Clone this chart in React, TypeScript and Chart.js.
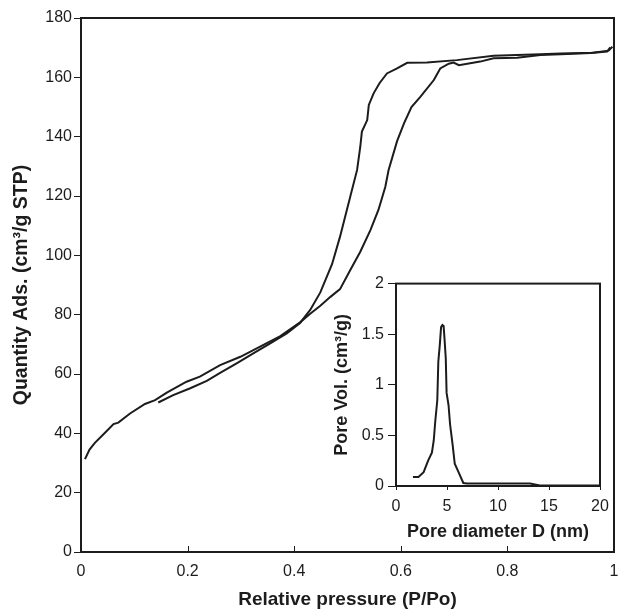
import React, { useEffect, useRef } from 'react';
import { Chart, registerables } from 'chart.js';

Chart.register(...registerables);

const FONT = '"Liberation Sans", Arial, Helvetica, sans-serif';
const INK = '#1c1c1c';

// Main isotherm: adsorption branch
const adsP = [0.0075, 0.016, 0.026, 0.045, 0.061, 0.07, 0.092, 0.12, 0.139, 0.161, 0.198, 0.223, 0.261, 0.299, 0.336, 0.374, 0.411, 0.43, 0.449, 0.468, 0.486, 0.505, 0.524, 0.543, 0.558, 0.571, 0.577, 0.593, 0.606, 0.62, 0.637, 0.662, 0.674, 0.69, 0.699, 0.709, 0.749, 0.774, 0.818, 0.862, 0.9, 0.956, 0.99, 0.997];
const adsQ = [31.3, 34.5, 36.8, 40.2, 43.1, 43.6, 46.7, 49.9, 51.2, 53.7, 57.4, 59.1, 63.0, 65.8, 69.2, 72.8, 77.4, 80.3, 83.0, 86.0, 88.6, 95.0, 101.2, 108.5, 115.3, 123.1, 128.7, 138.5, 144.5, 150.0, 153.5, 159.1, 163.0, 164.6, 165.0, 164.1, 165.3, 166.4, 166.6, 167.5, 167.8, 168.2, 169.0, 170.3];

// Main isotherm: desorption branch
const desP = [0.993, 0.987, 0.962, 0.9, 0.862, 0.774, 0.705, 0.649, 0.612, 0.593, 0.574, 0.56, 0.549, 0.54, 0.537, 0.527, 0.524, 0.518, 0.505, 0.486, 0.471, 0.449, 0.43, 0.411, 0.386, 0.355, 0.324, 0.292, 0.261, 0.236, 0.205, 0.173, 0.145];
const desQ = [170.1, 168.7, 168.3, 168.0, 167.8, 167.3, 165.8, 165.0, 164.9, 163.0, 161.3, 158.0, 154.6, 150.7, 145.6, 141.7, 136.6, 128.8, 119.7, 106.3, 97.0, 87.5, 81.6, 77.2, 73.7, 70.3, 67.0, 63.6, 60.4, 57.7, 55.2, 52.9, 50.4];

const mainXTicks = [0, 0.2, 0.4, 0.6, 0.8, 1];
const mainYTicks = [0, 20, 40, 60, 80, 100, 120, 140, 160, 180];

// Inset: pore size distribution
const poreD = [1.66, 2.2, 2.71, 3.15, 3.52, 3.7, 3.85, 4.05, 4.15, 4.29, 4.42, 4.55, 4.67, 4.76, 4.88, 4.96, 5.15, 5.3, 5.55, 5.76, 6.13, 6.6, 6.95, 13.15, 14.1, 20];
const poreV = [0.09, 0.09, 0.137, 0.25, 0.33, 0.45, 0.64, 0.85, 1.23, 1.39, 1.57, 1.59, 1.58, 1.45, 1.26, 0.92, 0.8, 0.61, 0.41, 0.22, 0.137, 0.03, 0.025, 0.025, 0.005, 0.005];

const insetXTicks = [0, 5, 10, 15, 20];
const insetYTicks = [0, 0.5, 1, 1.5, 2];

const framePlugin = {
  id: 'frame',
  afterDraw(chart: any, _args: any, opts: any) {
    const { ctx, chartArea } = chart;
    const { left, top, right, bottom } = chartArea;
    ctx.save();
    ctx.strokeStyle = INK;
    ctx.lineWidth = 2;
    ctx.strokeRect(left, top, right - left, bottom - top);
    if (opts && opts.innerTicks) {
      const xs = chart.scales.x;
      ctx.lineWidth = 1;
      opts.innerTicks.forEach((v: number) => {
        const px = Math.round(xs.getPixelForValue(v)) + 0.5;
        ctx.beginPath();
        ctx.moveTo(px, bottom);
        ctx.lineTo(px, bottom - opts.innerTickLen);
        ctx.stroke();
      });
    }
    ctx.restore();
  },
};

function pts(xs: number[], ys: number[]) {
  return xs.map((x, i) => ({ x, y: ys[i] }));
}

export default function App() {
  const mainRef = useRef<HTMLCanvasElement>(null);
  const insetRef = useRef<HTMLCanvasElement>(null);

  useEffect(() => {
    const tickFont = { family: FONT, size: 16 };
    const main = new Chart(mainRef.current as HTMLCanvasElement, {
      type: 'scatter',
      data: {
        datasets: [
          { data: pts(adsP, adsQ), showLine: true, borderColor: INK, borderWidth: 2, pointRadius: 0, tension: 0, fill: false },
          { data: pts(desP, desQ), showLine: true, borderColor: INK, borderWidth: 2, pointRadius: 0, tension: 0, fill: false },
        ],
      },
      options: {
        animation: false,
        responsive: false,
        events: [],
        layout: { padding: { left: 10, top: 18, right: 5, bottom: 0 } },
        plugins: {
          legend: { display: false },
          tooltip: { enabled: false },
          frame: { innerTicks: [0.2, 0.4, 0.6, 0.8], innerTickLen: 6 },
        } as any,
        scales: {
          x: {
            type: 'linear',
            min: 0,
            max: 1,
            afterBuildTicks: (s: any) => { s.ticks = mainXTicks.map((v) => ({ value: v })); },
            afterFit: (s: any) => { s.height = 59; s.paddingLeft = 0; s.paddingRight = 0; },
            ticks: { font: tickFont, color: INK, padding: 10, maxRotation: 0, autoSkip: false, callback: (v: any) => String(v) },
            grid: { display: false, drawTicks: false },
            border: { display: false },
            title: { display: true, text: 'Relative pressure (P/Po)', color: INK, font: { family: FONT, size: 19, weight: 'bold' }, padding: { top: 0, bottom: 0 } },
          },
          y: {
            type: 'linear',
            min: 0,
            max: 180,
            afterBuildTicks: (s: any) => { s.ticks = mainYTicks.map((v) => ({ value: v })); },
            afterFit: (s: any) => { s.width = 71; },
            ticks: { font: tickFont, color: INK, padding: 2, autoSkip: false, callback: (v: any) => String(v) },
            grid: { display: true, drawOnChartArea: false, drawTicks: true, tickLength: 7, color: INK, lineWidth: 1 },
            border: { display: false },
            title: { display: true, text: 'Quantity Ads. (cm\u00B3/g STP)', color: INK, font: { family: FONT, size: 19.5, weight: 'bold' }, padding: { top: 0, bottom: 0 } },
          },
        },
      } as any,
      plugins: [framePlugin],
    });

    const inset = new Chart(insetRef.current as HTMLCanvasElement, {
      type: 'scatter',
      data: {
        datasets: [
          { data: pts(poreD, poreV), showLine: true, borderColor: INK, borderWidth: 2, pointRadius: 0, tension: 0, fill: false },
        ],
      },
      options: {
        animation: false,
        responsive: false,
        events: [],
        layout: { padding: { left: 0, top: 11, right: 19, bottom: 0 } },
        plugins: {
          legend: { display: false },
          tooltip: { enabled: false },
          frame: {},
        } as any,
        scales: {
          x: {
            type: 'linear',
            min: 0,
            max: 20,
            afterBuildTicks: (s: any) => { s.ticks = insetXTicks.map((v) => ({ value: v })); },
            afterFit: (s: any) => { s.height = 57; s.paddingLeft = 0; s.paddingRight = 0; },
            ticks: { font: tickFont, color: INK, padding: 7, maxRotation: 0, autoSkip: false, callback: (v: any) => String(v) },
            grid: { display: true, drawOnChartArea: false, drawTicks: true, tickLength: 4, color: INK, lineWidth: 1 },
            border: { display: false },
            title: { display: true, text: 'Pore diameter D (nm)', color: INK, font: { family: FONT, size: 18, weight: 'bold' }, padding: { top: 0, bottom: 0 } },
          },
          y: {
            type: 'linear',
            min: 0,
            max: 2,
            afterBuildTicks: (s: any) => { s.ticks = insetYTicks.map((v) => ({ value: v })); },
            afterFit: (s: any) => { s.width = 65; },
            ticks: { font: tickFont, color: INK, padding: 4, autoSkip: false, callback: (v: any) => String(v) },
            grid: { display: true, drawOnChartArea: false, drawTicks: true, tickLength: 8, color: INK, lineWidth: 1 },
            border: { display: false },
            title: { display: true, text: 'Pore Vol. (cm\u00B3/g)', color: INK, font: { family: FONT, size: 18, weight: 'bold' }, padding: { top: 0, bottom: 0 } },
          },
        },
      } as any,
      plugins: [framePlugin],
    });

    return () => {
      main.destroy();
      inset.destroy();
    };
  }, []);

  return (
    <div style={{ position: 'absolute', left: 0, top: 0, width: 619, height: 611, background: '#ffffff' }}>
      <canvas ref={mainRef} width={619} height={611} style={{ position: 'absolute', left: 0, top: 0, width: 619, height: 611 }} />
      <canvas ref={insetRef} width={288} height={273} style={{ position: 'absolute', left: 331, top: 270, width: 288, height: 273 }} />
    </div>
  );
}
